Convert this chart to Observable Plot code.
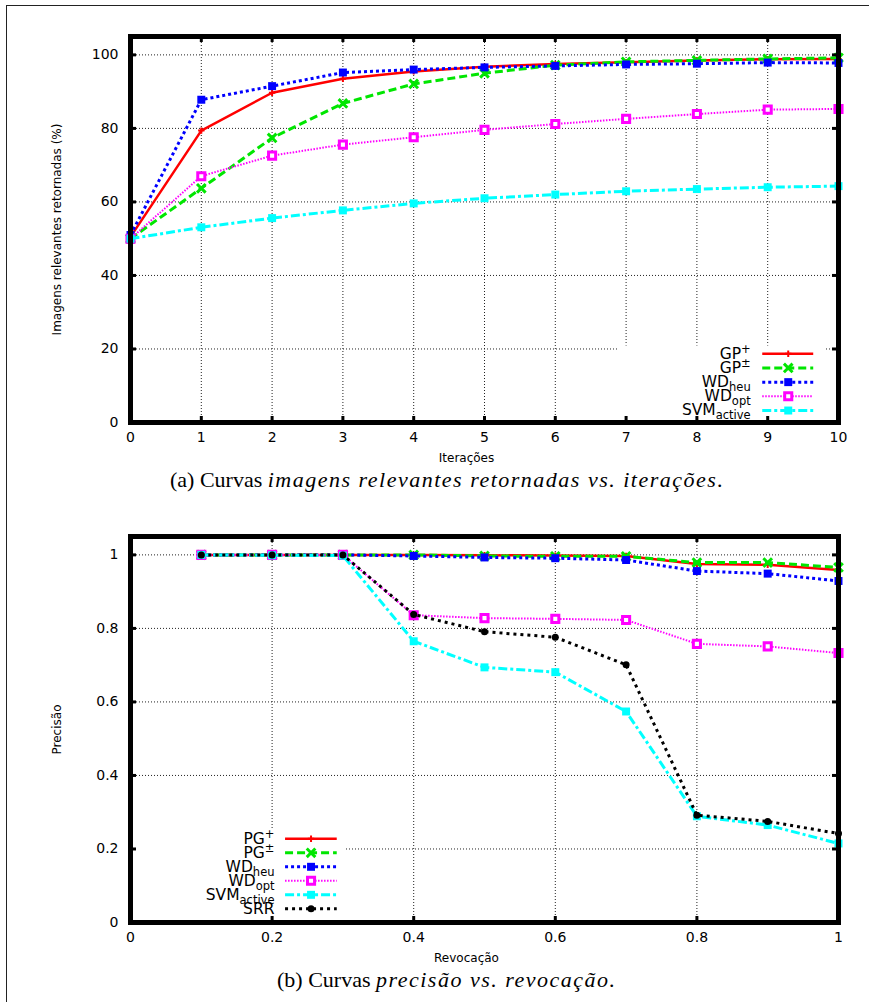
<!DOCTYPE html>
<html><head><meta charset="utf-8">
<script src="https://cdn.jsdelivr.net/npm/d3@7"></script>
<script src="https://cdn.jsdelivr.net/npm/@observablehq/plot@0.6"></script>
<style>
html,body{margin:0;padding:0;background:#fff;width:869px;height:1002px;overflow:hidden;}
#page{position:relative;width:869px;height:1002px;overflow:hidden;}
#border{position:absolute;left:6px;top:5px;width:900px;height:1100px;border-left:1px solid #222;border-top:1px solid #222;}
.chart{position:absolute;left:0;}
.cap{position:absolute;white-space:nowrap;font-family:"Liberation Serif",serif;font-size:22px;color:#000;line-height:24px;}
.cap i{letter-spacing:1.5px;}
</style>
</head><body>
<div id="page">
  <div id="border"></div>
  <div id="chartA" class="chart" style="top:0px"></div>
  <div id="chartB" class="chart" style="top:500px"></div>
  <div id="capA" class="cap">(a) Curvas <i>imagens relevantes retornadas vs. iterações.</i></div>
  <div id="capB" class="cap">(b) Curvas <i>precisão vs. revocação.</i></div>
</div>
<script>
// ---------- Data: chart (a) ----------
const iterations = [0, 1, 2, 3, 4, 5, 6, 7, 8, 9, 10];
const gpPlus    = [50.5, 79.4, 89.7, 93.5, 95.5, 96.8, 97.5, 98.0, 98.5, 98.8, 98.9];
const gpPm      = [50.0, 63.7, 77.4, 86.8, 92.1, 95.0, 97.2, 98.1, 98.5, 98.9, 99.2];
const wdHeu     = [51.0, 87.8, 91.5, 95.2, 96.0, 96.6, 97.0, 97.4, 97.6, 97.9, 97.8];
const wdOpt     = [50.0, 67.0, 72.6, 75.6, 77.6, 79.6, 81.2, 82.6, 83.9, 85.1, 85.3];
const svmActive = [50.0, 53.1, 55.6, 57.7, 59.6, 61.0, 62.0, 62.9, 63.5, 64.0, 64.3];
const namesA = ["GP^+", "GP^±", "WD_heu", "WD_opt", "SVM_active"];
const xTicksA = [0, 1, 2, 3, 4, 5, 6, 7, 8, 9, 10];
const yTicksA = [0, 20, 40, 60, 80, 100];

// ---------- Data: chart (b) ----------
const recall   = [0.1, 0.2, 0.3, 0.4, 0.5, 0.6, 0.7, 0.8, 0.9, 1.0];
const pPgPlus  = [1, 1, 1, 1.0, 0.999, 0.998, 0.997, 0.975, 0.973, 0.959];
const pPgPm    = [1, 1, 1, 1.0, 0.997, 0.996, 0.996, 0.979, 0.979, 0.966];
const pWdHeu   = [1, 1, 1, 0.997, 0.993, 0.991, 0.986, 0.956, 0.949, 0.929];
const pWdOpt   = [1, 1, 1, 0.836, 0.828, 0.826, 0.823, 0.758, 0.751, 0.733];
const pSvm     = [1, 0.999, 0.998, 0.765, 0.694, 0.681, 0.574, 0.289, 0.265, 0.215];
const pSrr     = [1, 1, 1, 0.838, 0.791, 0.776, 0.701, 0.292, 0.275, 0.242];
const namesB = ["PG^+", "PG^±", "WD_heu", "WD_opt", "SVM_active", "SRR"];
const xTicksB = [0, 0.2, 0.4, 0.6, 0.8, 1];
const yTicksB = [0, 0.2, 0.4, 0.6, 0.8, 1];

// ---------- Styles ----------
const seriesStyles = [
  {stroke: "#ff0000", dash: null,      width: 2.5, symbol: "plus",   r: 2.2, fill: "none",    sw: 2},
  {stroke: "#00e600", dash: "8,4",     width: 3,   symbol: "times",  r: 4,   fill: "none",    sw: 3},
  {stroke: "#0000ff", dash: "3,3",     width: 3,   symbol: "square", r: 4.5, fill: "#0000ff", sw: 0},
  {stroke: "#ff00ff", dash: "1.5,1.5", width: 2,   symbol: "square", r: 4,   fill: "#ffffff", sw: 3},
  {stroke: "#00ffff", dash: "9,3,3,3", width: 3,   symbol: "square", r: 4.5, fill: "#00ffff", sw: 0},
  {stroke: "#000000", dash: "3,4",     width: 3,   symbol: "circle", r: 3.5, fill: "#000000", sw: 0}
];

const W = 869, H = 475, ML = 130, MR = 31, MT = 36, MB = 53;

function makeChart(cfg) {
  const plotW = W - ML - MR, plotH = H - MT - MB;
  const marks = [];
  const inner = (ticks, dom) => ticks.filter(t => t > dom[0] + 1e-9 && t < dom[1] - 1e-9);
  // grid
  marks.push(Plot.ruleX(inner(cfg.xTicks, cfg.xDomain), {x: d => d, stroke: "#222", strokeWidth: 1, strokeDasharray: "1,2"}));
  marks.push(Plot.ruleY(inner(cfg.yTicks, cfg.yDomain), {y: d => d, stroke: "#222", strokeWidth: 1, strokeDasharray: "1,2"}));
  // legend key box (opaque)
  marks.push(Plot.rect([cfg.box], {x1: "x1", x2: "x2", y1: "y1", y2: "y2", fill: "white"}));
  // series
  cfg.series.forEach((vals, k) => {
    const st = seriesStyles[k];
    const data = cfg.xs.map((x, i) => ({x, y: vals[i]}));
    marks.push(Plot.line(data, {x: "x", y: "y", stroke: st.stroke, strokeWidth: st.width,
      strokeDasharray: st.dash || undefined, strokeLinecap: "butt", strokeLinejoin: "miter"}));
    marks.push(Plot.dot(data, {x: "x", y: "y", symbol: st.symbol, r: st.r,
      fill: st.fill, stroke: st.sw ? st.stroke : "none", strokeWidth: st.sw || undefined}));
  });
  // legend
  const L = cfg.legend;
  cfg.names.forEach((name, k) => {
    const st = seriesStyles[k];
    const y = L.y0 - k * L.step;
    marks.push(Plot.ruleY([y], {y: d => d, x1: L.lx1, x2: L.lx2, stroke: st.stroke, strokeWidth: st.width,
      strokeDasharray: st.dash || undefined}));
    marks.push(Plot.dot([{x: L.mx, y}], {x: "x", y: "y", symbol: st.symbol, r: st.r,
      fill: st.fill, stroke: st.sw ? st.stroke : "none", strokeWidth: st.sw || undefined}));
    marks.push(Plot.text([name], {x: L.tx, y, text: d => d, textAnchor: "end", fontSize: 15.5,
      fontFamily: "DejaVu Sans", fill: "#000", lineAnchor: "middle"}));
  });
  // frame & inward ticks
  marks.push(Plot.frame({stroke: "#000", strokeWidth: 5}));
  marks.push(Plot.tickX(cfg.xTicks, {x: d => d, insetBottom: plotH - 6, stroke: "#000", strokeWidth: 3}));
  marks.push(Plot.tickX(cfg.xTicks, {x: d => d, insetTop: plotH - 6, stroke: "#000", strokeWidth: 3}));
  marks.push(Plot.tickY(cfg.yTicks, {y: d => d, insetRight: plotW - 6, stroke: "#000", strokeWidth: 3}));
  marks.push(Plot.tickY(cfg.yTicks, {y: d => d, insetLeft: plotW - 6, stroke: "#000", strokeWidth: 3}));
  // axis labels
  marks.push(Plot.text([cfg.xLabel], {frameAnchor: "bottom", text: d => d, dx: -18, dy: 36,
    lineAnchor: "middle", textAnchor: "middle", fontSize: 12, fontFamily: "DejaVu Sans", fill: "#000"}));
  marks.push(Plot.text([cfg.yLabel], {frameAnchor: "left", text: d => d, dx: -73, rotate: -90,
    lineAnchor: "middle", textAnchor: "middle", fontSize: 12, fontFamily: "DejaVu Sans", fill: "#000"}));

  const svg = Plot.plot({
    width: W, height: H, marginLeft: ML, marginRight: MR, marginTop: MT, marginBottom: MB,
    style: {fontFamily: "DejaVu Sans", fontSize: "14px", color: "#000", background: "transparent"},
    x: {domain: cfg.xDomain, ticks: cfg.xTicks, tickSize: 0, tickPadding: 10, tickFormat: cfg.fmt, label: null},
    y: {domain: cfg.yDomain, ticks: cfg.yTicks, tickSize: 0, tickPadding: 12, tickFormat: cfg.fmt, label: null},
    marks
  });
  // super/subscripts in legend labels
  svg.querySelectorAll("text").forEach(t => {
    const s = t.textContent;
    const m = s.match(/^([^\^_]+)([\^_])(.+)$/);
    if (!m) return;
    while (t.firstChild) t.removeChild(t.firstChild);
    t.appendChild(document.createTextNode(m[1]));
    const ts = document.createElementNS("http://www.w3.org/2000/svg", "tspan");
    ts.setAttribute("font-size", "11.5");
    ts.setAttribute("dy", m[2] === "^" ? "-6" : "4");
    ts.textContent = m[3];
    t.appendChild(ts);
  });
  return svg;
}

const fmt = d => String(d);

document.getElementById("chartA").appendChild(makeChart({
  xs: iterations,
  series: [gpPlus, gpPm, wdHeu, wdOpt, svmActive],
  names: namesA,
  xDomain: [0, 10], yDomain: [0, 105],
  xTicks: xTicksA, yTicks: yTicksA, fmt,
  xLabel: "Iterações", yLabel: "Imagens relevantes retornadas (%)",
  box: {x1: 6.89, x2: 9.82, y1: 0, y2: 20.8},
  legend: {y0: 18.7, step: 3.86, lx1: 8.93, lx2: 9.65, mx: 9.29, tx: 8.76}
}));

document.getElementById("chartB").appendChild(makeChart({
  xs: recall,
  series: [pPgPlus, pPgPm, pWdHeu, pWdOpt, pSvm, pSrr],
  names: namesB,
  xDomain: [0, 1], yDomain: [0, 1.05],
  xTicks: xTicksB, yTicks: yTicksB, fmt,
  xLabel: "Revocação", yLabel: "Precisão",
  box: {x1: 0, x2: 0.304, y1: 0, y2: 0.2535},
  legend: {y0: 0.2277, step: 0.0381, lx1: 0.219, lx2: 0.292, mx: 0.255, tx: 0.2034}
}));

// captions
const capA = document.getElementById("capA"), capB = document.getElementById("capB");
capA.style.left = "170px"; capA.style.top = "468px";
const center = 170 + capA.offsetWidth / 2;
capB.style.left = (center - capB.offsetWidth / 2) + "px"; capB.style.top = "968px";
</script>
</body></html>
